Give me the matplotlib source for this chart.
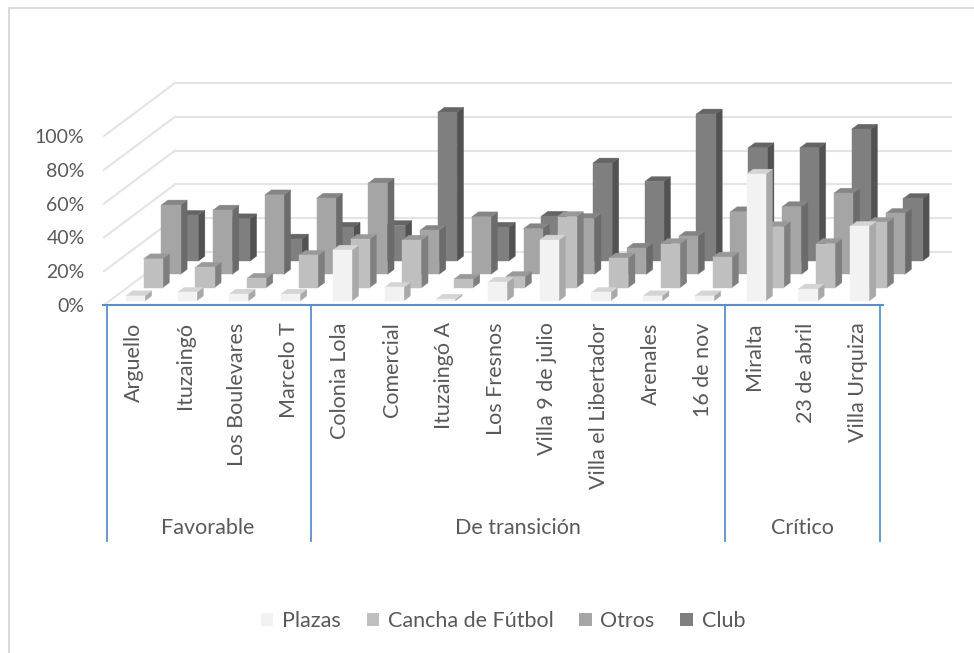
import matplotlib
matplotlib.use('Agg')
import matplotlib.pyplot as plt
from matplotlib.lines import Line2D
from matplotlib.patches import Patch, Polygon

plt.rcParams['font.family'] = ['Lato', 'DejaVu Sans']

# barrios and their groups
barrios = ['Arguello', 'Ituzaingó', 'Los Boulevares', 'Marcelo T',
           'Colonia Lola', 'Comercial', 'Ituzaingó A', 'Los Fresnos',
           'Villa 9 de julio', 'Villa el Libertador', 'Arenales', '16 de nov',
           'Miralta', '23 de abril', 'Villa Urquiza']
grupos = ['Favorable', 'De transición', 'Crítico']
grupo_n = [4, 8, 3]

# percent values per series
plazas = [3, 5, 4, 4, 30, 8, 1, 11, 36, 5, 3, 3, 75, 7, 44]
cancha = [17, 12, 5.5, 19, 28.5, 28, 5, 6.5, 42, 17.5, 26, 18, 36, 26, 38.5]
otros = [41, 38, 47, 45, 54, 26, 34, 27, 33, 15.5, 22.5, 37, 40, 48, 36]
club = [27, 25, 13, 20, 21, 88, 20, 26.5, 58, 47, 87, 67, 67, 78, 37]

series = ['Plazas', 'Cancha de Fútbol', 'Otros', 'Club']
valores = [plazas, cancha, otros, club]
# front, side and top shade of each series
colores = [('#f2f2f2', '#a9a9a9', '#d4d4d4'),
           ('#bfbfbf', '#7f7f7f', '#999999'),
           ('#a5a5a5', '#6b6b6b', '#858585'),
           ('#7f7f7f', '#525252', '#656565')]

ticks = [0, 20, 40, 60, 80, 100]

W, H = 974, 653
TEXTO = '#595959'
AZUL = '#5b8fc9'
GRID = '#e4e4e4'

# oblique depth: one full depth moves this much in category and percent units
DX = 1.3725
DY = 31.4
ANCHO = 0.37  # bar width, from a 170% gap


def proy(x, z, d):
    return x + d * DX, z + d * DY


def barra(ax, x, h, d0, d1, cols):
    x0, x1 = x, x + ANCHO
    front = [proy(x0, 0, d0), proy(x1, 0, d0), proy(x1, h, d0), proy(x0, h, d0)]
    side = [proy(x1, 0, d0), proy(x1, 0, d1), proy(x1, h, d1), proy(x1, h, d0)]
    top = [proy(x0, h, d0), proy(x1, h, d0), proy(x1, h, d1), proy(x0, h, d1)]
    for pts, c in zip((side, top, front), (cols[1], cols[2], cols[0])):
        ax.add_patch(Polygon(pts, closed=True, fc=c, ec=c, lw=0.3, clip_on=False))


fig = plt.figure(figsize=(W / 100, H / 100), dpi=100)
ax = fig.add_axes([104 / W, 1 - 305 / H, 776 / W, 169 / H])
ax.set_xlim(0, len(barrios))
ax.set_ylim(0, 100)
for s in ax.spines.values():
    s.set_visible(False)
ax.patch.set_visible(False)

# walls
for t in ticks:
    ax.plot(*zip(proy(0, t, 0), proy(0, t, 1)), color=GRID, lw=1.5, clip_on=False, zorder=1)
    ax.plot(*zip(proy(0, t, 1), proy(len(barrios), t, 1)), color=GRID, lw=1.5, clip_on=False, zorder=1)

# back row first so the front rows cover it
for i in range(len(series) - 1, -1, -1):
    d0 = (i + (1 - ANCHO) / 2) / len(series)
    d1 = d0 + ANCHO / len(series)
    for j, v in enumerate(valores[i]):
        barra(ax, j + (1 - ANCHO) / 2, v, d0, d1, colores[i])

ax.set_xticks([])
ax.set_yticks(ticks)
ax.set_yticklabels([str(t) + '%' for t in ticks], fontsize=14, color=TEXTO)
ax.tick_params(axis='y', length=0, pad=14)

# multi level category axis
ax.plot([-0.02, len(barrios) + 0.05], [0, 0], color=AZUL, lw=1.5, clip_on=False, zorder=5)
for j, b in enumerate(barrios):
    ax.text(j + 0.57, -10.3, b, rotation=90, ha='center', va='top',
            fontsize=15.5, color=TEXTO)

ini = 0
cortes = [0.05]
for g, n in zip(grupos, grupo_n):
    ax.text(ini + n / 2, -132, g, ha='center', va='center', fontsize=15.5, color=TEXTO)
    ini += n
    cortes.append(ini)
for c in cortes:
    ax.plot([c, c], [0, -139.6], color=AZUL, lw=1.3, clip_on=False, zorder=5)

handles = [Patch(fc=c[0], ec='none') for c in colores]
fig.legend(handles, series, loc='center', bbox_to_anchor=(503 / W, 1 - 621 / H), ncol=4,
           frameon=False, fontsize=15.5, labelcolor=TEXTO, handlelength=0.58, handleheight=0.58,
           handletextpad=0.4, columnspacing=1.2)

# chart frame, left and top edges only
fig.add_artist(Line2D([9 / W, 9 / W], [0, 1 - 8 / H], color='#d9d9d9', lw=1.4))
fig.add_artist(Line2D([9 / W, 1], [1 - 8 / H, 1 - 8 / H], color='#d9d9d9', lw=1.4))

fig.savefig('out.png', dpi=100)
